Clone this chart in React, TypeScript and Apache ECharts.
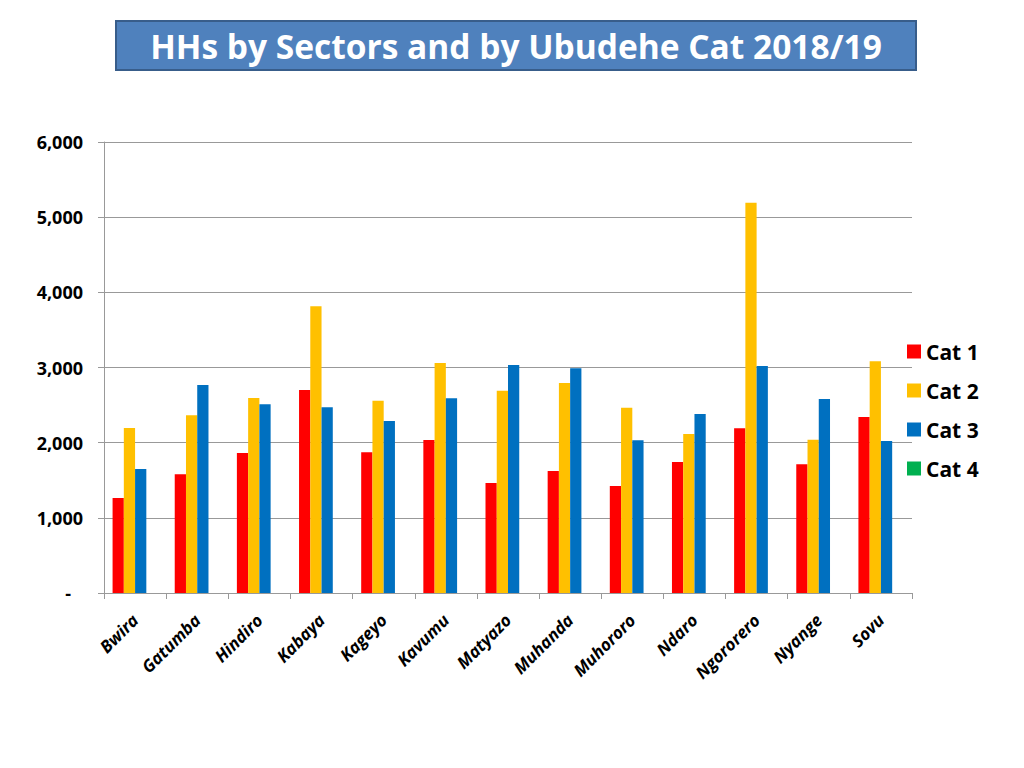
import React, { useEffect, useRef } from "react";
import * as echarts from "echarts";

const categories = ["Bwira", "Gatumba", "Hindiro", "Kabaya", "Kageyo", "Kavumu", "Matyazo", "Muhanda", "Muhororo", "Ndaro", "Ngororero", "Nyange", "Sovu"];
const cat1 = [1264, 1579, 1862, 2700, 1872, 2035, 1463, 1623, 1423, 1743, 2191, 1712, 2341];
const cat2 = [2195, 2364, 2594, 3814, 2558, 3060, 2691, 2794, 2465, 2115, 5192, 2039, 3082];
const cat3 = [1650, 2767, 2510, 2470, 2288, 2590, 3033, 2989, 2031, 2381, 3020, 2581, 2022];
const cat4 = [null, null, null, null, null, null, null, null, null, null, null, null, null];
const seriesNames = ["Cat 1", "Cat 2", "Cat 3", "Cat 4"];
const seriesColors = ["#FF0000", "#FFC000", "#0070C0", "#00B050"];
const titleText = "HHs by Sectors and by Ubudehe Cat 2018/19";

const FONT = "'Open Sans', Lato, sans-serif";

export default function App() {
  const ref = useRef<HTMLDivElement>(null);
  useEffect(() => {
    if (!ref.current) return;
    const chart = echarts.init(ref.current, undefined, { renderer: "svg" });
    const data = [cat1, cat2, cat3, cat4];
    chart.setOption({
      animation: false,
      backgroundColor: "#ffffff",
      textStyle: { fontFamily: FONT },
      graphic: [
        {
          type: "rect",
          shape: { x: 116, y: 21, width: 800, height: 49 },
          style: { fill: "#4F81BD", stroke: "#385D8A", lineWidth: 2 },
        },
        {
          type: "text",
          x: 516,
          y: 46,
          style: {
            text: titleText,
            fill: "#ffffff",
            font: `bold 33.5px ${FONT}`,
            textAlign: "center",
            textVerticalAlign: "middle",
          },
        },
      ],
      legend: {
        orient: "vertical",
        left: 907,
        top: 341,
        padding: 0,
        itemWidth: 14,
        itemHeight: 14,
        itemGap: 18,
        icon: "rect",
        data: seriesNames,
        textStyle: { fontSize: 21, fontWeight: "bold", color: "#000", fontFamily: FONT },
      },
      grid: { left: 104, right: 112, top: 142, bottom: 175 },
      xAxis: {
        type: "category",
        data: categories,
        axisLine: { lineStyle: { color: "#999" } },
        axisTick: { show: true, length: 6, lineStyle: { color: "#999" } },
        axisLabel: {
          interval: 0,
          rotate: 45,
          margin: 24,
          fontSize: 17,
          fontWeight: "bold",
          fontStyle: "italic",
          color: "#000",
          fontFamily: FONT,
        },
      },
      yAxis: {
        type: "value",
        min: 0,
        max: 6000,
        interval: 1000,
        axisLine: { show: true, lineStyle: { color: "#999" } },
        axisTick: { show: true, length: 6, lineStyle: { color: "#999" } },
        splitLine: { lineStyle: { color: "#999" } },
        axisLabel: {
          fontSize: 18,
          fontWeight: "bold",
          color: "#000",
          margin: 21,
          fontFamily: FONT,
          formatter: (v: number) => (v === 0 ? "{d|-}" : v.toLocaleString("en-US")),
          rich: { d: { fontSize: 18, fontWeight: "bold", padding: [0, 12, 0, 0], fontFamily: FONT } },
        },
      },
      series: seriesNames.map((name, i) => ({
        name,
        type: "bar",
        data: data[i],
        itemStyle: { color: seriesColors[i] },
        barGap: "0%",
        barCategoryGap: "27.6%",
      })),
    });
    return () => chart.dispose();
  }, []);
  return <div ref={ref} style={{ position: "fixed", left: 0, top: 0, width: 1024, height: 768 }} />;
}
